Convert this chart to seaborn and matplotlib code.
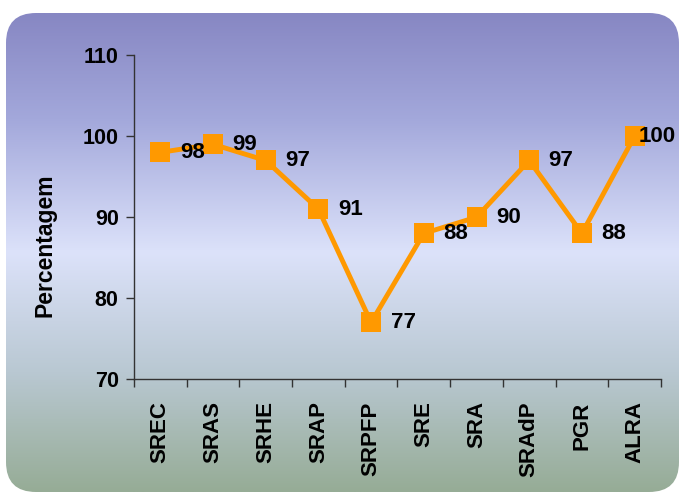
import numpy as np
import pandas as pd
import matplotlib
matplotlib.use("Agg")
import matplotlib.pyplot as plt
from matplotlib.patches import FancyBboxPatch
import seaborn as sns

# chart data
categories = ["SREC", "SRAS", "SRHE", "SRAP", "SRPFP", "SRE", "SRA", "SRAdP", "PGR", "ALRA"]
values = [98, 99, 97, 91, 77, 88, 90, 97, 88, 100]
y_ticks = [70, 80, 90, 100, 110]

df = pd.DataFrame({"cat": categories, "val": values})

sns.set_theme(style="ticks")
plt.rcParams["font.family"] = ["Liberation Sans", "DejaVu Sans"]
plt.rcParams["font.weight"] = "bold"
plt.rcParams["text.color"] = "black"
plt.rcParams["xtick.color"] = "black"
plt.rcParams["ytick.color"] = "black"
plt.rcParams["axes.labelcolor"] = "black"

fig = plt.figure(figsize=(6.8, 4.93), dpi=100)
fig.patch.set_facecolor("white")

# rounded gradient panel behind the chart (pixel coords)
bg = fig.add_axes([0, 0, 1, 1], zorder=-1)
bg.set_xlim(0, 680)
bg.set_ylim(493, 0)
bg.axis("off")
stops = [0.0, 0.22, 0.5, 0.75, 1.0]
cols = np.array([[0x87, 0x87, 0xc3], [0xa3, 0xa8, 0xdb], [0xdc, 0xe2, 0xfa],
                 [0xb9, 0xc8, 0xd2], [0x96, 0xac, 0x96]]) / 255.0
t = np.linspace(0, 1, 256)
grad = np.stack([np.interp(t, stops, cols[:, k]) for k in range(3)], axis=1)
grad = np.repeat(grad[:, None, :], 2, axis=1)
im = bg.imshow(grad, extent=(6, 680, 492, 13), aspect="auto", interpolation="bilinear")
panel = FancyBboxPatch((6, 13), 673, 479, boxstyle="round,pad=0,rounding_size=30",
                       transform=bg.transData, facecolor="none", edgecolor="none")
bg.add_patch(panel)
im.set_clip_path(panel)

ax = fig.add_axes([0.197, 0.231, 0.775, 0.657])
ax.set_facecolor("none")

sns.lineplot(data=df, x="cat", y="val", sort=False, color="#FF9900", linewidth=3.5,
             marker="s", markersize=15, markeredgewidth=0, ax=ax)

for i, v in enumerate(values):
    # last label is pulled in so it stays inside the panel
    off = 3 if i == len(values) - 1 else 14
    ax.annotate(str(v), (i, v), xytext=(off, 0), textcoords="offset points",
                ha="left", va="center", fontsize=16, fontweight="bold", color="black",
                annotation_clip=False, zorder=5)

ax.set_xlim(-0.5, len(categories) - 0.5)
ax.set_ylim(70, 110)
ax.set_yticks(y_ticks)
ax.set_yticklabels([str(y) for y in y_ticks], fontsize=15.5, fontweight="bold")
ax.set_xticks(range(len(categories)))
ax.set_xticklabels(categories, rotation=90, fontsize=16, fontweight="bold")
ax.set_xticks(np.arange(-0.5, len(categories)), minor=True)
ax.tick_params(axis="x", which="major", length=0, pad=16)
ax.tick_params(axis="x", which="minor", length=6, width=1, color="#333333", direction="out")
ax.tick_params(axis="y", length=6, width=1, color="#333333", pad=5)
ax.set_xlabel("")
ax.set_ylabel("Percentagem", fontsize=16.5, fontweight="bold")
ax.yaxis.set_label_coords(-0.147, 0.414)

sns.despine(ax=ax)
for s in ("left", "bottom"):
    ax.spines[s].set_color("#333333")
    ax.spines[s].set_linewidth(1)

fig.savefig("out.png", dpi=100)
